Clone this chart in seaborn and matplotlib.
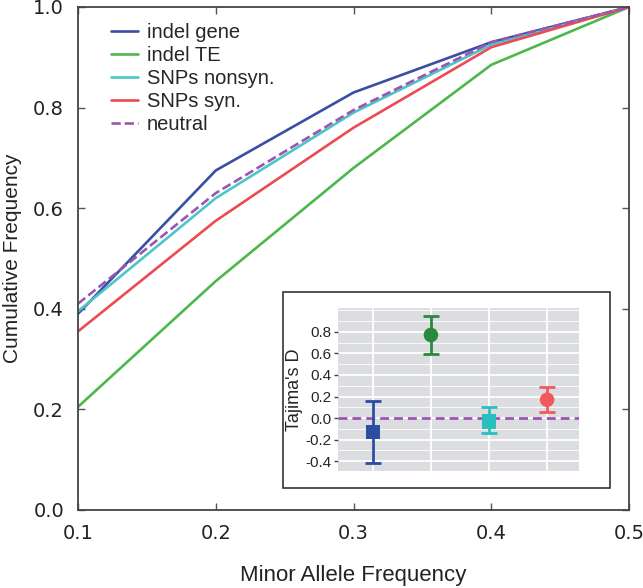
#!/usr/bin/env python3

import pandas as pd
import matplotlib.pyplot as plt
from matplotlib.patches import Rectangle
from matplotlib.ticker import MultipleLocator
import seaborn as sns

# main panel: cumulative frequency vs minor allele frequency
maf = [0.1, 0.2, 0.3, 0.4, 0.5]
indel_gene = [0.39, 0.675, 0.83, 0.93, 1.0]
indel_te = [0.205, 0.455, 0.68, 0.885, 1.0]
snps_nonsyn = [0.395, 0.62, 0.79, 0.925, 1.0]
snps_syn = [0.355, 0.575, 0.76, 0.92, 1.0]
neutral = [0.41, 0.63, 0.795, 0.93, 1.0]

series = ["indel gene", "indel TE", "SNPs nonsyn.", "SNPs syn.", "neutral"]
colors = ["#3a4ea3", "#4cb84c", "#4cc6c8", "#ec4b52", "#9d55b0"]

# inset: Tajima's D with intervals
taj_groups = ["indel gene", "indel TE", "SNPs nonsyn.", "SNPs syn."]
taj_d = [-0.13, 0.77, -0.03, 0.17]
taj_lo = [-0.42, 0.59, -0.14, 0.06]
taj_hi = [0.16, 0.95, 0.10, 0.29]
taj_colors = ["#2b4ea3", "#2a8a3c", "#2abfbf", "#ee5a5e"]
taj_markers = ["s", "o", "s", "o"]

sns.set_style("ticks")
plt.rcParams["font.family"] = ["Liberation Sans", "DejaVu Sans"]

df = pd.DataFrame(
    {"maf": maf, "indel gene": indel_gene, "indel TE": indel_te,
     "SNPs nonsyn.": snps_nonsyn, "SNPs syn.": snps_syn, "neutral": neutral}
).melt(id_vars="maf", var_name="set", value_name="cum")

fig = plt.figure(figsize=(6.43, 5.88), dpi=100)
ax = fig.add_axes([0.1213, 0.1327, 0.8570, 0.8554])

sns.lineplot(
    data=df, x="maf", y="cum", hue="set", hue_order=series,
    palette=dict(zip(series, colors)), style="set",
    dashes={s: (3.5, 1.5) if s == "neutral" else "" for s in series},
    linewidth=1.9, ax=ax,
)
ax.set_xlim(0.1, 0.5)
ax.set_ylim(0.0, 1.0)
ax.set_xticks(maf)
ax.set_yticks([0.0, 0.2, 0.4, 0.6, 0.8, 1.0])
ax.tick_params(direction="in", top=True, right=True, length=5, width=1,
               color="#555555", labelsize=14, pad=10)
for lab in ax.get_xticklabels() + ax.get_yticklabels():
    lab.set_family("DejaVu Sans")
    lab.set_color("#222222")
for sp in ax.spines.values():
    sp.set_color("#444444")
    sp.set_linewidth(1.3)
ax.set_xlabel("Minor Allele Frequency", fontsize=16, labelpad=16, color="#222222")
ax.set_ylabel("Cumulative Frequency", fontsize=15, labelpad=8, color="#222222")
ax.legend(title=None, frameon=False, fontsize=14.5, loc="upper left",
          bbox_to_anchor=(0.035, 0.997), handlelength=1.3, handletextpad=0.45,
          labelspacing=0.2, borderaxespad=0.3)

# inset frame
fig.add_artist(Rectangle((0.440, 0.170), 0.5086, 0.3333, transform=fig.transFigure,
                         facecolor="white", edgecolor="#333333", linewidth=1.2,
                         zorder=1))

ins = fig.add_axes([0.5257, 0.199, 0.3748, 0.2772], zorder=2)
ins.set_facecolor("#dcdde0")
ins.set_xlim(-0.6, 3.55)
ins.set_ylim(-0.49, 1.02)
ins.yaxis.set_major_locator(MultipleLocator(0.2))
ins.yaxis.set_minor_locator(MultipleLocator(0.1))
ins.set_xticks(range(len(taj_groups)))
ins.set_xticklabels([])
ins.grid(which="major", color="white", linewidth=1.3)
ins.grid(which="minor", axis="y", color="white", linewidth=0.6)
ins.set_axisbelow(True)
for sp in ins.spines.values():
    sp.set_visible(False)
ins.tick_params(axis="x", length=0)
ins.tick_params(axis="y", which="major", length=3, width=1, color="#444444",
                labelsize=11, pad=1.5)
ins.tick_params(axis="y", which="minor", length=0)
ins.set_yticks([-0.4, -0.2, 0.0, 0.2, 0.4, 0.6, 0.8])
ins.set_yticklabels(["-0.4", "-0.2", "0.0", "0.2", "0.4", "0.6", "0.8"])

ins.axhline(0, color="#9d55b0", linestyle=(0, (3.2, 1.8)), linewidth=2, zorder=2)
for i, (d, lo, hi, c, m) in enumerate(zip(taj_d, taj_lo, taj_hi, taj_colors, taj_markers)):
    ins.errorbar(i, d, yerr=[[d - lo], [hi - d]], color=c, capsize=5.5,
                 elinewidth=2, capthick=2, fmt="none", zorder=3)
tdf = pd.DataFrame({"pos": range(len(taj_groups)), "D": taj_d, "group": taj_groups})
sns.scatterplot(data=tdf, x="pos", y="D", hue="group", style="group",
                palette=dict(zip(taj_groups, taj_colors)),
                markers=dict(zip(taj_groups, taj_markers)),
                s=110, linewidth=0, legend=False, ax=ins, zorder=4)
ins.set_xlabel("")
ins.set_ylabel("Tajima's D", fontsize=13, labelpad=2)

fig.savefig("out.png", dpi=100)
